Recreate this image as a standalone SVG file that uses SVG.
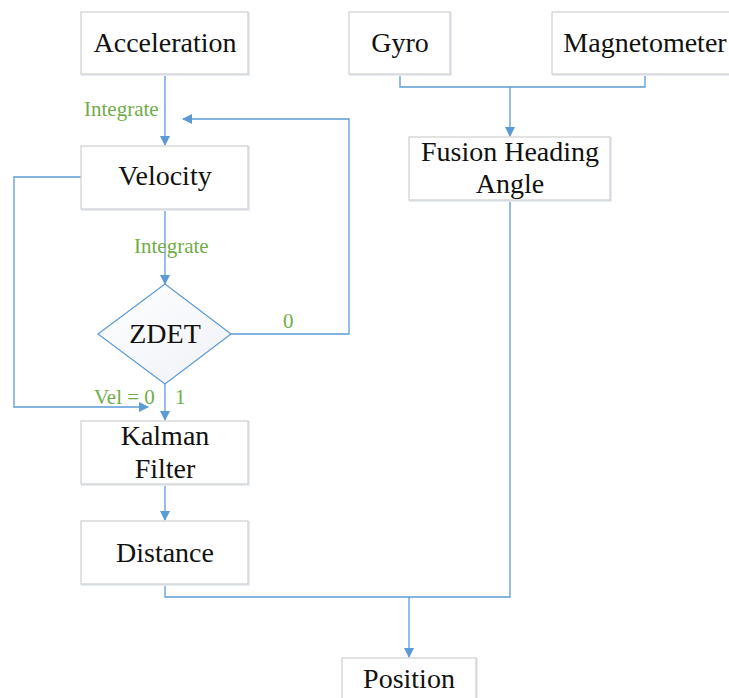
<svg xmlns="http://www.w3.org/2000/svg" width="729" height="698" viewBox="0 0 729 698">
  <defs>
    <marker id="arrow" markerWidth="10" markerHeight="10" refX="9" refY="5" orient="auto" markerUnits="userSpaceOnUse">
      <path d="M0,0 L10,5 L0,10 Z" fill="#5b9bd5"/>
    </marker>
    <linearGradient id="diamondFill" x1="0" y1="0" x2="1" y2="1">
      <stop offset="0" stop-color="#ffffff"/>
      <stop offset="1" stop-color="#eef1f7"/>
    </linearGradient>
  </defs>
  <style>
    .box { fill: #ffffff; stroke: #cfcfcf; stroke-width: 1.2; }
    .shadow { fill: none; stroke: #e6ecf4; stroke-width: 2; }
    .label { font-family: "Liberation Serif", "Times New Roman", Times, serif; font-size: 28px; fill: #111111; text-anchor: middle; }
    .note { font-family: "Liberation Serif", "Times New Roman", Times, serif; font-size: 21px; fill: #70ad47; }
    .link { fill: none; stroke: #5b9bd5; stroke-width: 1.3; }
  </style>
  <rect width="729" height="698" fill="#ffffff"/>

  <!-- connectors -->
  <g id="connectors">
    <path class="link" d="M165,74 V145" marker-end="url(#arrow)"/>
    <path class="link" d="M165,209 V284" marker-end="url(#arrow)"/>
    <path class="link" d="M231,334 H349 V119 H183" marker-end="url(#arrow)"/>
    <path class="link" d="M81,177 H14 V407 H148" marker-end="url(#arrow)"/>
    <path class="link" d="M165,384 V420" marker-end="url(#arrow)"/>
    <path class="link" d="M165,484 V520" marker-end="url(#arrow)"/>
    <path class="link" d="M400,74 V87 H645 V74"/>
    <path class="link" d="M510,87 V136" marker-end="url(#arrow)"/>
    <path class="link" d="M165,584 V597 H510 V200"/>
    <path class="link" d="M409,597 V657" marker-end="url(#arrow)"/>
  </g>

  <!-- edge labels -->
  <g id="edge-labels">
    <text class="note" x="84" y="116">Integrate</text>
    <text class="note" x="134" y="253">Integrate</text>
    <text class="note" x="283" y="328">0</text>
    <text class="note" x="94" y="404">Vel = 0</text>
    <text class="note" x="175" y="404">1</text>
  </g>

  <g id="acceleration">
    <rect class="shadow" x="82" y="13" width="167" height="62"/>
    <rect class="box" x="81" y="12" width="167" height="62"/>
    <text class="label" x="165" y="52">Acceleration</text>
  </g>

  <g id="velocity">
    <rect class="shadow" x="82" y="147" width="167" height="63"/>
    <rect class="box" x="81" y="146" width="167" height="63"/>
    <text class="label" x="165" y="185">Velocity</text>
  </g>

  <g id="zdet">
    <polygon points="165,284 231,334 165,384 98,334" fill="url(#diamondFill)" stroke="#5b9bd5" stroke-width="1.2"/>
    <text class="label" x="165" y="343">ZDET</text>
  </g>

  <g id="kalman-filter">
    <rect class="shadow" x="82" y="422" width="167" height="63"/>
    <rect class="box" x="81" y="421" width="167" height="63"/>
    <text class="label" x="165" y="445">Kalman</text>
    <text class="label" x="165" y="478">Filter</text>
  </g>

  <g id="distance">
    <rect class="shadow" x="82" y="522" width="167" height="63"/>
    <rect class="box" x="81" y="521" width="167" height="63"/>
    <text class="label" x="165" y="562">Distance</text>
  </g>

  <g id="gyro">
    <rect class="shadow" x="350" y="13" width="101" height="62"/>
    <rect class="box" x="349" y="12" width="101" height="62"/>
    <text class="label" x="400" y="52">Gyro</text>
  </g>

  <g id="magnetometer">
    <rect class="shadow" x="553" y="13" width="190" height="62"/>
    <rect class="box" x="552" y="12" width="190" height="62"/>
    <text class="label" x="645" y="52">Magnetometer</text>
  </g>

  <g id="fusion-heading-angle">
    <rect class="shadow" x="410" y="138" width="201" height="63"/>
    <rect class="box" x="409" y="137" width="201" height="63"/>
    <text class="label" x="510" y="161">Fusion Heading</text>
    <text class="label" x="510" y="193">Angle</text>
  </g>

  <g id="position">
    <rect class="shadow" x="343" y="659" width="134" height="60"/>
    <rect class="box" x="342" y="658" width="134" height="60"/>
    <text class="label" x="409" y="688">Position</text>
  </g>
</svg>
